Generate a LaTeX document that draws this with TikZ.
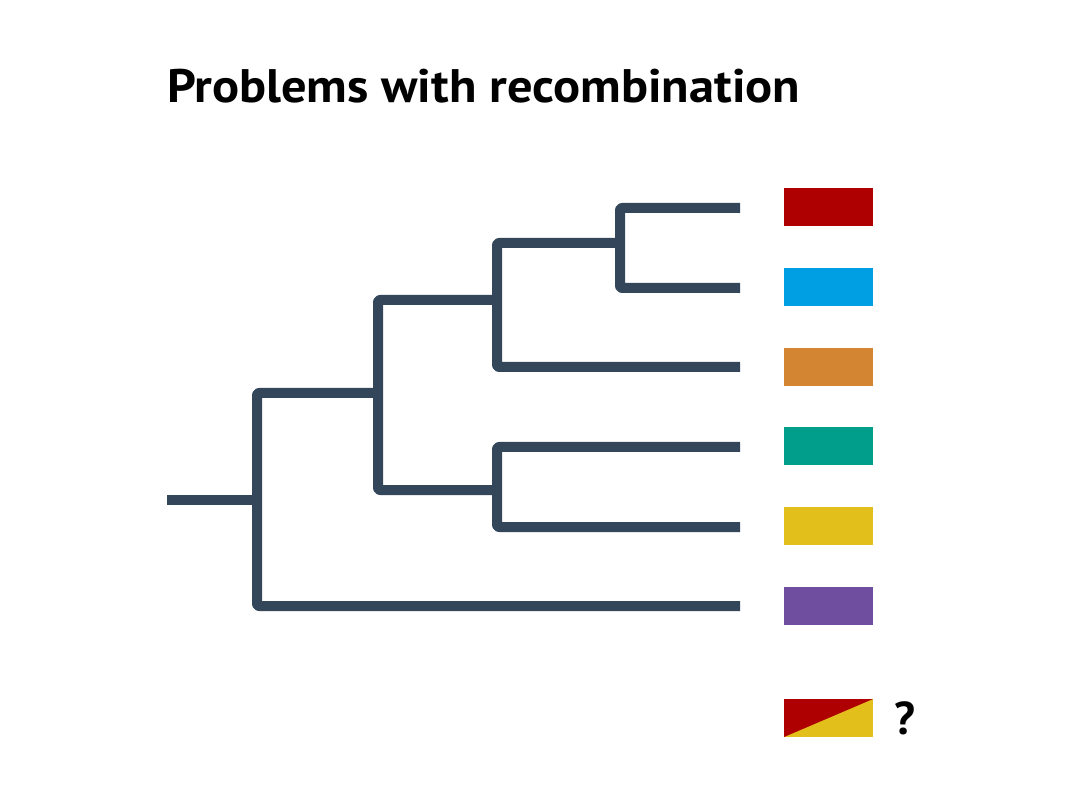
\documentclass[tikz,border=0pt]{standalone}
\usepackage{fontspec}
\setmainfont{PT Sans}
\usepackage{tikz}
\usepackage{xcolor}
\usetikzlibrary{positioning,calc}
\definecolor{branchink}{HTML}{34475A}
\definecolor{tipred}{HTML}{AE0000}
\definecolor{tipblue}{HTML}{009FE3}
\definecolor{tiporange}{HTML}{D38532}
\definecolor{tipteal}{HTML}{009E8B}
\definecolor{tipyellow}{HTML}{E3BF1B}
\definecolor{tippurple}{HTML}{6F4D9F}
\tikzset{
  branch/.style={draw=branchink,line width=10pt,line cap=butt,
                 line join=round,rounded corners=2pt},
  tipbox/.style={draw=none,minimum width=89pt,minimum height=38pt,
                 inner sep=0pt,outer sep=0pt},
  titletext/.style={font=\fontsize{47}{50}\selectfont\bfseries,inner sep=0pt}
}

\begin{document}
\begin{tikzpicture}[x=1pt,y=-1pt]
  \useasboundingbox (0,0) rectangle (1080,810);
  \fill[white] (0,0) rectangle (1080,810);
  \node[titletext,anchor=base west] (title) at (167,103)
    {\resizebox{633pt}{\height}{Problems with recombination}};

  % leaf ends
  \coordinate (l1) at (740,208);
  \coordinate (l2) at (740,288);
  \coordinate (l3) at (740,367);
  \coordinate (l4) at (740,447);
  \coordinate (l5) at (740,527);
  \coordinate (l6) at (740,606);
  % inner nodes
  \coordinate (n5) at (620,243);
  \coordinate (n3) at (497,300);
  \coordinate (n4) at (497,490);
  \coordinate (n2) at (378,393);
  \coordinate (n1) at (257,500);
  \coordinate (root) at (167,500);

  \draw[branch] (l1) -| (n5) |- (l2);
  \draw[branch] (n5) -| (n3) |- (l3);
  \draw[branch] (l4) -| (n4) |- (l5);
  \draw[branch] (n3) -| (n2) |- (n4);
  \draw[branch] (n2) -| (n1) |- (l6);
  \draw[branch] (root) -- (n1);

  % tip colours
  \node[tipbox,fill=tipred] (t1) at (828.5,207) {};
  \node[tipbox,fill=tipblue] (t2) at (828.5,287) {};
  \node[tipbox,fill=tiporange] (t3) at (828.5,367) {};
  \node[tipbox,fill=tipteal] (t4) at (828.5,446) {};
  \node[tipbox,fill=tipyellow] (t5) at (828.5,526) {};
  \node[tipbox,fill=tippurple] (t6) at (828.5,606) {};
  \node[tipbox,fill=tipyellow] (t7) at (828.5,718) {};
  \fill[tipred] (t7.north west) -- (t7.north east) -- (t7.south west) -- cycle;
  \node[font=\fontsize{46}{48}\selectfont\bfseries,inner sep=0pt,right=21pt of t7] (q) {?};
\end{tikzpicture}
\end{document}
